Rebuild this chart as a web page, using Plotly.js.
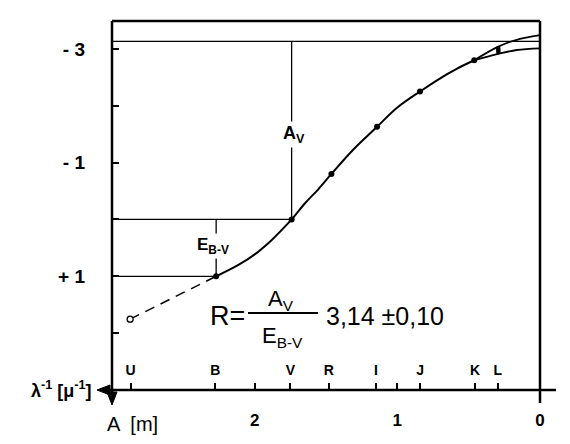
<!DOCTYPE html>
<html><head><meta charset="utf-8">
<script src="https://cdn.plot.ly/plotly-3.0.1.min.js"></script>
<style>html,body{margin:0;padding:0;background:#fff}</style>
</head><body><div id="chart" style="width:570px;height:444px"></div>
<script>
// ---- data ----
// photometric bands on the λ^-1 axis [μ^-1]
const bandNames = ["U", "B", "", "V", "R", "I", "", "J", "K", "L"];
const bandInvLambda = [2.87, 2.275, 2, 1.75, 1.48, 1.15, 1, 0.84, 0.455, 0.296];
// numeric λ^-1 ticks
const invLambdaTicks = [2, 1, 0];
const invLambdaTickText = ["2", "1", "0"];
// A [m] ticks
const aTicks = [-3, -2, -1, 0, 1, 2];
const aTickText = ["- 3", "", "- 1", "", "+ 1", ""];
// measured points B, V, R, I, J, K
const ptInvLambda = [2.27, 1.741, 1.462, 1.142, 0.841, 0.461];
const ptA = [1.0, 0.0, -0.80, -1.63, -2.25, -2.80];
// L point (bar)
const lInvLambda = [0.292];
const lA = [-2.975];
const lErr = [0.065];
// U point (open)
const uInvLambda = [2.873];
const uA = [1.754];
// extinction curve
const curveInvLambda = [2.27, 2.114, 1.997, 1.880, 1.810, 1.741, 1.647, 1.554, 1.462, 1.308, 1.142, 1.004, 0.841, 0.654, 0.584, 0.461];
const curveA = [1.0, 0.80, 0.61, 0.36, 0.185, 0.0, -0.285, -0.53, -0.80, -1.23, -1.63, -1.96, -2.25, -2.55, -2.65, -2.80];
const upperInvLambda = [0.461, 0.292, 0.163, 0.0];
const upperA = [-2.80, -3.04, -3.16, -3.24];
const lowerInvLambda = [0.461, 0.292, 0.163, 0.0];
const lowerA = [-2.80, -2.91, -2.98, -3.01];
// A_V level at λ^-1 = 0
const Av = -3.13;

// ---- helpers ----
const L = 112, T = 21, W = 428, H = 369;
const px = x => (x - L) / W;
const py = y => (T + H - y) / H;
const FONT = "Liberation Sans, Arial, sans-serif";
const blk = "#000";

const xMax = 3.0;
const vX = ptInvLambda[1], vA = ptA[1];
const bX = ptInvLambda[0], bA = ptA[0];

const thin = {color: blk, width: 1.3};
const traces = [
  {x: [xMax, 0], y: [Av, Av], mode: "lines", line: thin, hoverinfo: "skip"},
  {x: [xMax, vX, vX], y: [vA, vA, Av], mode: "lines", line: thin, hoverinfo: "skip"},
  {x: [xMax, bX, bX], y: [bA, bA, vA], mode: "lines", line: thin, hoverinfo: "skip"},
  {x: [uInvLambda[0], bX], y: [uA[0], bA], mode: "lines", line: {color: blk, width: 1.5, dash: "10px,7px"}, hoverinfo: "skip"},
  {x: curveInvLambda, y: curveA, mode: "lines", line: {color: blk, width: 2, shape: "spline", smoothing: 1}, hoverinfo: "skip"},
  {x: upperInvLambda, y: upperA, mode: "lines", line: {color: blk, width: 1.8, shape: "spline", smoothing: 1}, hoverinfo: "skip"},
  {x: lowerInvLambda, y: lowerA, mode: "lines", line: {color: blk, width: 1.8, shape: "spline", smoothing: 1}, hoverinfo: "skip"},
  {x: ptInvLambda, y: ptA, mode: "markers", marker: {color: blk, size: 6}, hoverinfo: "skip"},
  {x: lInvLambda, y: lA, mode: "markers", marker: {color: blk, size: 4, symbol: "square"},
   error_y: {type: "data", array: lErr, visible: true, thickness: 4, width: 0, color: blk}, hoverinfo: "skip"},
  {x: uInvLambda, y: uA, mode: "markers", marker: {color: "#fff", size: 6, line: {color: blk, width: 1.3}}, hoverinfo: "skip"},
  {x: invLambdaTicks, y: [0, 0, 0], xaxis: "x2", mode: "markers", marker: {opacity: 0}, hoverinfo: "skip"}
];

function ann(xp, yp, text, size, extra) {
  return Object.assign({x: px(xp), y: py(yp), xref: "paper", yref: "paper", text: text, showarrow: false,
    xanchor: "center", yanchor: "middle",
    font: {family: FONT, size: size, color: blk}}, extra || {});
}
function tri(pts) {
  return {type: "path", xref: "paper", yref: "paper", fillcolor: blk, line: {color: blk, width: 1},
    path: "M " + pts.map(p => px(p[0]) + "," + py(p[1])).join(" L ") + " Z"};
}

const layout = {
  width: 570, height: 444,
  margin: {l: L, r: 570 - L - W, t: T, b: 444 - T - H, pad: 0},
  paper_bgcolor: "#fff", plot_bgcolor: "#fff",
  showlegend: false,
  xaxis: {range: [xMax, 0], showgrid: false, zeroline: false, showline: false,
    tickmode: "array", tickvals: bandInvLambda, ticktext: bandNames,
    ticks: "inside", ticklen: 7, tickwidth: 2, tickcolor: blk,
    ticklabelposition: "inside", ticklabelstandoff: 5,
    tickfont: {family: FONT, size: 14, color: blk, weight: "bold"}},
  xaxis2: {range: [xMax, 0], overlaying: "x", anchor: "y", side: "bottom",
    showgrid: false, zeroline: false, showline: false,
    tickmode: "array", tickvals: invLambdaTicks, ticktext: invLambdaTickText,
    ticks: "", ticklabelstandoff: 18,
    tickfont: {family: FONT, size: 17, color: blk, weight: "bold"}},
  yaxis: {range: [3.0, -3.49], showgrid: false, zeroline: false, showline: false,
    tickmode: "array", tickvals: aTicks, ticktext: aTickText,
    ticks: "inside", ticklen: 7, tickwidth: 2, tickcolor: blk,
    ticklabelstandoff: 26,
    tickfont: {family: FONT, size: 19, color: blk, weight: "bold"}},
  shapes: [
    {type: "line", xref: "paper", yref: "paper", x0: 0, x1: 1, y0: 1, y1: 1, line: {color: blk, width: 2.5}},
    {type: "line", xref: "paper", yref: "paper", x0: 1, x1: 1, y0: py(403), y1: 1, line: {color: blk, width: 2.5}},
    {type: "line", xref: "paper", yref: "paper", x0: px(106), x1: px(556), y0: 0, y1: 0, line: {color: blk, width: 2.5}},
    {type: "line", xref: "paper", yref: "paper", x0: 0, x1: 0, y0: py(396), y1: 1, line: {color: blk, width: 2.5}},
    tri([[97, 390], [110, 385], [110, 395]]),
    tri([[112, 405], [107, 392], [117, 392]]),
    {type: "line", xref: "paper", yref: "paper", x0: px(248), x1: px(318), y0: py(313), y1: py(313), line: {color: blk, width: 2}}
  ],
  annotations: [
    ann(294, 134, "A<sub>V</sub>", 18, {bgcolor: "#fff", font: {family: FONT, size: 18, color: blk, weight: "bold"}}),
    ann(213, 246, "E<sub>B-V</sub>", 17, {bgcolor: "#fff", font: {family: FONT, size: 17, color: blk, weight: "bold"}}),
    ann(247, 316, "R=", 27, {xanchor: "right"}),
    ann(281, 300, "A<sub>V</sub>", 22),
    ann(282, 337, "E<sub>B-V</sub>", 22),
    ann(324, 316, "3,14 ±0,10", 25, {xanchor: "left"}),
    ann(93, 389, "λ<sup>-1</sup> [μ<sup>-1</sup>]", 18, {xanchor: "right", font: {family: FONT, size: 18, color: blk, weight: "bold"}}),
    ann(132, 424, "A  [m]", 20)
  ]
};

Plotly.newPlot("chart", traces, layout, {displayModeBar: false, staticPlot: true});
</script></body></html>
